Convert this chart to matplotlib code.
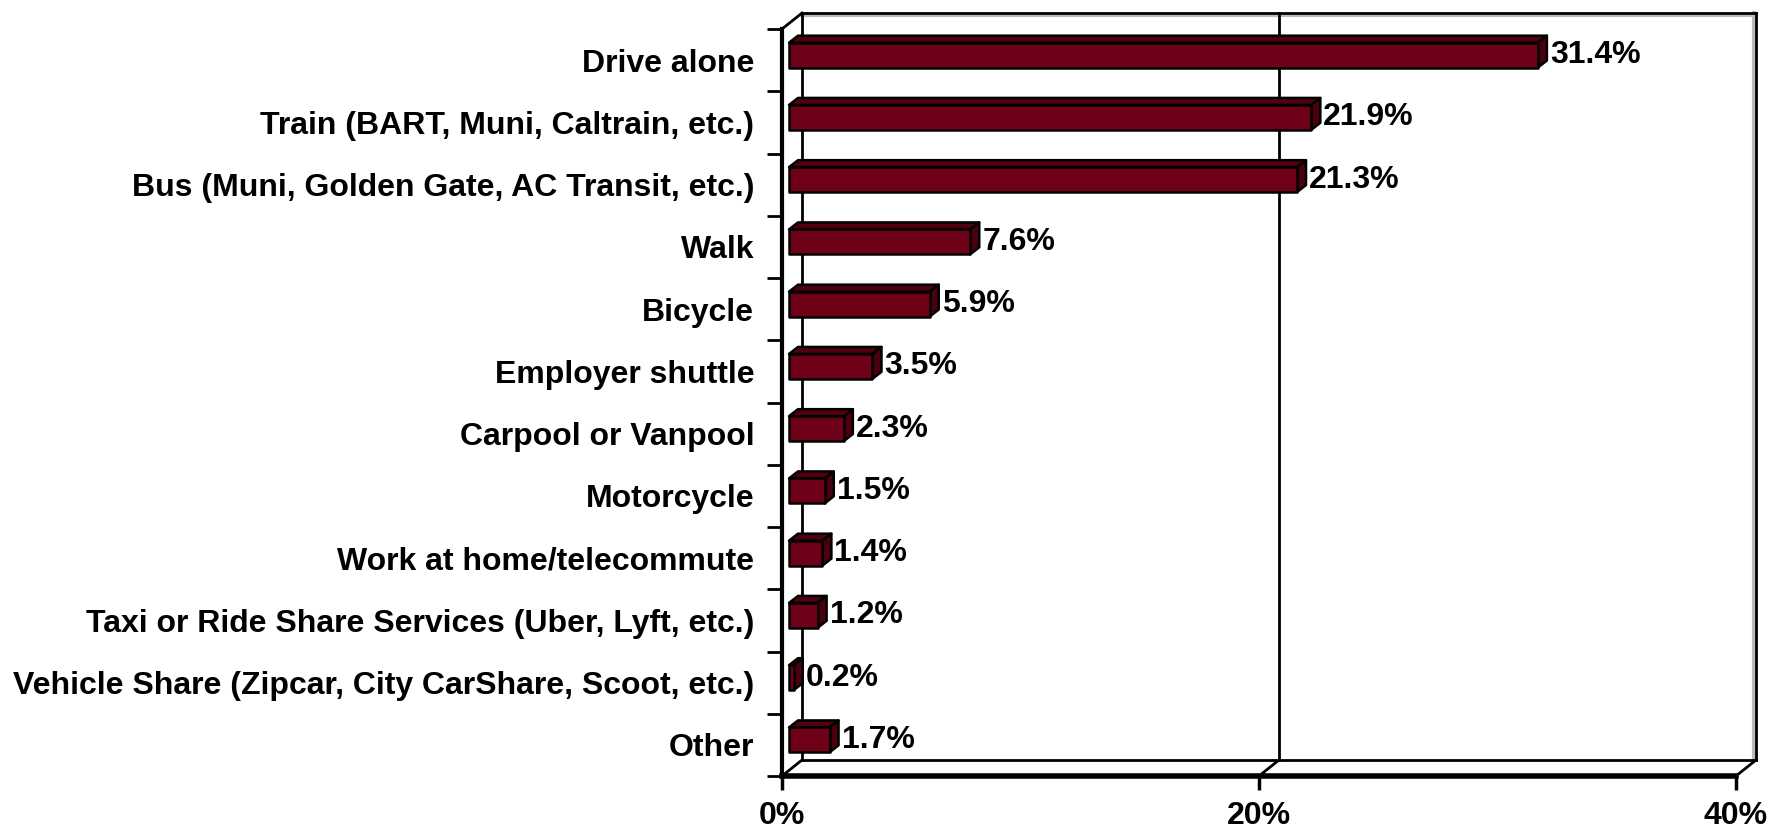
import numpy as np
import matplotlib
matplotlib.use("Agg")
import matplotlib.pyplot as plt
from matplotlib.patches import Polygon

categories = [
    "Drive alone",
    "Train (BART, Muni, Caltrain, etc.)",
    "Bus (Muni, Golden Gate, AC Transit, etc.)",
    "Walk",
    "Bicycle",
    "Employer shuttle",
    "Carpool or Vanpool",
    "Motorcycle",
    "Work at home/telecommute",
    "Taxi or Ride Share Services (Uber, Lyft, etc.)",
    "Vehicle Share (Zipcar, City CarShare, Scoot, etc.)",
    "Other",
]
values = [31.4, 21.9, 21.3, 7.6, 5.9, 3.5, 2.3, 1.5, 1.4, 1.2, 0.2, 1.7]
xticks = [0, 20, 40]
xticklabels = ["0%", "20%", "40%"]

plt.rcParams["font.family"] = ["Liberation Sans", "DejaVu Sans"]
plt.rcParams["font.weight"] = "bold"

W, H, DPI = 1773, 830, 100
fig = plt.figure(figsize=(W / DPI, H / DPI), dpi=DPI)
# front plane of the 3d box, in pixels
left, right, top, bottom = 782, 1736, 29, 776
ax = fig.add_axes([left / W, 1 - bottom / H, (right - left) / W, (bottom - top) / H])
n = len(categories)
ax.set_xlim(0, 40)
ax.set_ylim(n - 0.5, -0.5)
ax.patch.set_visible(False)

px_x = (right - left) / 40
px_y = (bottom - top) / n


def shift(dx, dy):
    # pixel offset (right, up) -> data offset
    return dx / px_x, -dy / px_y


wx, wy = shift(20, 16)
fx, fy = shift(7, 5)
bx, by = shift(16, 12)
y_lo, y_hi = -0.5, n - 0.5

# back wall + floor
kw = dict(color="black", lw=2, clip_on=False, zorder=1)
gx, gy = shift(0, -2)
ax.plot([wx, 40 + wx], [y_lo + wy + gy, y_lo + wy + gy], color="#bbbbbb", lw=3, clip_on=False, zorder=0)
ax.plot([40 + wx - shift(2, 0)[0]] * 2, [y_lo + wy, y_hi + wy], color="#bbbbbb", lw=3, clip_on=False, zorder=0)
ax.plot([wx, 40 + wx], [y_lo + wy, y_lo + wy], **kw)
ax.plot([40 + wx, 40 + wx], [y_lo + wy, y_hi + wy], **kw)
ax.plot([wx, wx], [y_lo + wy, y_hi + wy], **kw)
ax.plot([20 + wx, 20 + wx], [y_lo + wy, y_hi + wy], **kw)
ax.plot([wx, 40 + wx], [y_hi + wy, y_hi + wy], **kw)
ax.plot([0, wx], [y_lo, y_lo + wy], **kw)
for t in xticks:
    ax.plot([t, t + wx], [y_hi, y_hi + wy], **kw)

front_c, top_c, side_c = "#6e0017", "#520010", "#4a000e"
for i, v in enumerate(values):
    y0, y1 = i - 0.2, i + 0.2
    topf = [(fx, y0 + fy), (v + fx, y0 + fy), (v + bx, y0 + by), (bx, y0 + by)]
    side = [(v + fx, y0 + fy), (v + bx, y0 + by), (v + bx, y1 + by), (v + fx, y1 + fy)]
    front = [(fx, y0 + fy), (v + fx, y0 + fy), (v + fx, y1 + fy), (fx, y1 + fy)]
    for pts, c in ((topf, top_c), (side, side_c), (front, front_c)):
        ax.add_patch(Polygon(pts, closed=True, fc=c, ec="black", lw=1.8, joinstyle="round", zorder=3))
    ax.text(v + bx + shift(3, 0)[0], i + fy, f"{v}%", ha="left", va="center",
            fontsize=23, fontweight="bold", zorder=4)

for s in ("top", "right"):
    ax.spines[s].set_visible(False)
ax.spines["left"].set_linewidth(3)
ax.spines["bottom"].set_linewidth(4)
ax.spines["left"].set_zorder(2)
ax.spines["bottom"].set_zorder(2)

ax.set_yticks(range(n), categories)
ax.set_yticks(np.arange(-0.5, n), minor=True)
ax.tick_params(axis="y", which="major", length=0, pad=20, labelsize=23)
ax.tick_params(axis="y", which="minor", length=11, width=2)
ax.set_xticks(xticks, xticklabels)
ax.tick_params(axis="x", length=10, width=2.5, pad=8, labelsize=23)
for lab in ax.get_xticklabels() + ax.get_yticklabels():
    lab.set_fontweight("bold")

fig.savefig("out.png", dpi=DPI)
